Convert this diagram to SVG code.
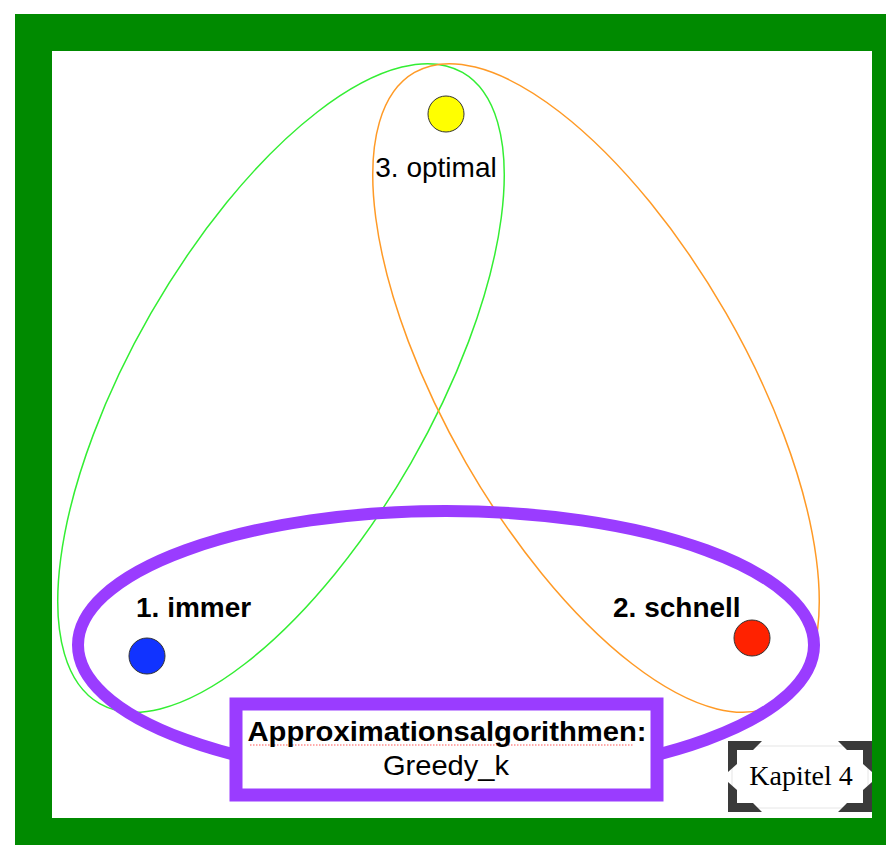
<svg xmlns="http://www.w3.org/2000/svg" width="886" height="845" viewBox="0 0 886 845">
<style>
.set{fill:none;stroke-width:1.5}
.dot{stroke:#333;stroke-width:1}
.lbl{font-family:"Liberation Sans",Arial,Helvetica,sans-serif;font-size:28px;fill:#000}
.b{font-weight:bold}
.brk{fill:#3a3a3a}
</style>
<g id="frame">
<rect x="15" y="14" width="871" height="831" fill="#008a00"/>
<rect x="52" y="51" width="820" height="767" fill="#fff"/>
</g>
<g id="sets">
<ellipse id="set-green" class="set" cx="281" cy="388" rx="364" ry="150" transform="rotate(-60.1 281 388)" stroke="#33ee33"/>
<ellipse id="set-orange" class="set" cx="596" cy="388" rx="364" ry="150" transform="rotate(60.1 596 388)" stroke="#ff9a26"/>
<ellipse id="set-purple" cx="446" cy="645" rx="368" ry="134" fill="none" stroke="#9a3cff" stroke-width="12"/>
</g>
<g id="node-optimal">
<circle class="dot" cx="446" cy="114" r="18" fill="#ffff00"/>
<text class="lbl" x="436" y="177" text-anchor="middle">3. optimal</text>
</g>
<g id="node-immer">
<circle class="dot" cx="147" cy="656" r="18" fill="#1133ff"/>
<text class="lbl b" x="136" y="617">1. immer</text>
</g>
<g id="node-schnell">
<circle class="dot" cx="752" cy="638" r="18" fill="#ff2200"/>
<text class="lbl b" x="613" y="617">2. schnell</text>
</g>
<g id="label-box">
<rect x="236" y="704" width="421" height="91" fill="#fff" stroke="#9a3cff" stroke-width="13"/>
<line x1="250" y1="745" x2="633" y2="745" stroke="#ff5555" stroke-width="1" stroke-dasharray="1.5 1.5"/>
<text class="lbl b" x="447" y="741" text-anchor="middle" font-size="25" textLength="399" lengthAdjust="spacingAndGlyphs">Approximationsalgorithmen:</text>
<text class="lbl" x="446" y="775" text-anchor="middle" font-size="25" textLength="126" lengthAdjust="spacingAndGlyphs">Greedy_k</text>
</g>
<g id="kapitel-button">
<rect x="732" y="746" width="136" height="62" fill="#fff" stroke="#e6e6e6" stroke-width="1"/>
<polygon class="brk" points="728,741 762,741 753,750 737,750 737,764 728,772"/>
<polygon class="brk" points="872,741 838,741 847,750 863,750 863,764 872,772"/>
<polygon class="brk" points="728,812 762,812 753,803 737,803 737,790 728,782"/>
<polygon class="brk" points="872,812 838,812 847,803 863,803 863,790 872,782"/>
<text x="801" y="785" text-anchor="middle" font-family="'Liberation Serif','Times New Roman',serif" font-size="28" fill="#000">Kapitel 4</text>
</g>
</svg>
